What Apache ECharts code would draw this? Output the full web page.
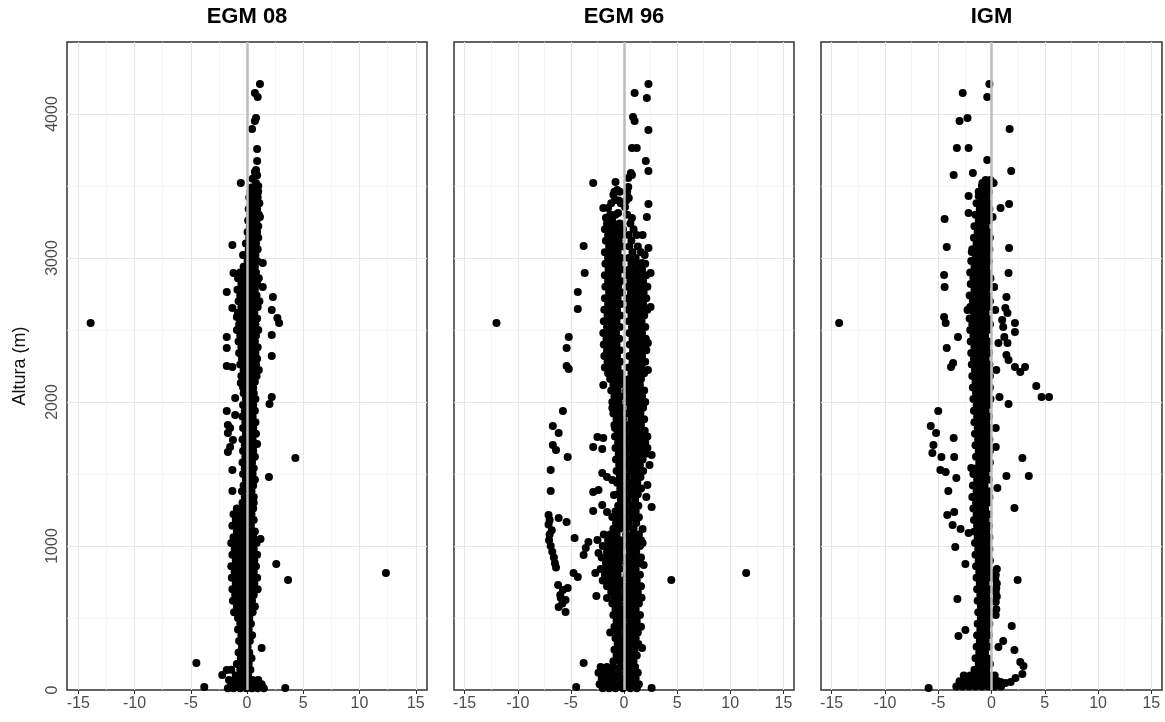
<!DOCTYPE html>
<html>
<head>
<meta charset="utf-8">
<script src="https://cdn.jsdelivr.net/npm/echarts@6/dist/echarts.min.js"></script>
<style>
html, body { margin: 0; background: #fff; }
#main { width: 1165px; height: 722px; }
</style>
</head>
<body>
<div id="main"></div>
<script>
var panels = ['EGM 08', 'EGM 96', 'IGM'];
var xTicks = [-15, -10, -5, 0, 5, 10, 15];
var xMinor = [-12.5, -7.5, -2.5, 2.5, 7.5, 12.5];
var yTicks = [0, 1000, 2000, 3000, 4000];
var yMinor = [500, 1500, 2500, 3500];

// each row: altura (m), then the differences (m) read at that altitude
var egm08Rows = [
  [4208, 1.15], [4146, 0.7], [4118, 0.95], [3972, 0.8], [3951, 0.7], [3896, 0.45],
  [3757, 0.9], [3674, 0.9], [3611, 0.8], [3597, 0.7], [3575, 0.9], [3550, 0.5],
  [3521, -0.55, 0.8], [3500, 1.0], [3490, 0.4],
  [3460, 0.3, 0.7, 1.0], [3420, 0.2, 0.6, 0.95], [3380, 0.35, 0.75, 1.1], [3340, 0.15, 0.55, 0.9],
  [3300, 0.3, 0.7, 1.05], [3285, 1.15], [3260, 0.1, 0.5, 0.85], [3220, 0.25, 0.65, 1.0],
  [3180, 0.05, 0.45, 0.9], [3140, 0.2, 0.6, 1.0], [3100, -0.1, 0.4, 0.8], [3090, -1.3],
  [3060, 0.15, 0.55, 0.95], [3021, -0.35], [3020, -0.2, 0.3, 0.75], [2980, 0.05, 0.5, 0.9],
  [2965, 1.4], [2940, -0.3, 0.2, 0.7], [2900, -0.6, -0.15, 0.3, 0.8], [2896, -1.2],
  [2860, -0.8, -0.3, 0.15, 0.65, 1.05], [2820, -0.5, 0.0, 0.45, 0.9], [2799, 1.4],
  [2780, -0.85, -0.35, 0.2, 0.7], [2764, -1.8], [2740, -0.6, -0.1, 0.35, 0.85], [2729, 2.3],
  [2700, -0.75, -0.25, 0.25, 0.7, 1.1], [2660, -0.5, 0.0, 0.5, 0.95], [2653, -1.3], [2639, 2.2],
  [2620, -0.8, -0.3, 0.2, 0.65], [2590, -0.9], [2583, 2.7], [2580, -0.55, -0.05, 0.4, 0.9],
  [2549, 2.85, -13.9], [2540, -0.7, -0.2, 0.3, 0.75], [2500, -0.9, -0.4, 0.1, 0.6, 1.0],
  [2465, 2.2], [2460, -0.6, -0.1, 0.35, 0.8], [2451, -1.8], [2420, -0.75, -0.25, 0.25, 0.7],
  [2380, -0.5, 0.0, 0.45, 0.95], [2375, -1.8], [2340, -0.7, -0.2, 0.3, 0.75], [2319, 2.2],
  [2300, -0.45, 0.05, 0.5, 0.9], [2260, -0.6, -0.1, 0.35, 0.8], [2250, -1.8], [2243, -1.3],
  [2222, 1.05], [2220, -0.3, 0.15, 0.6], [2180, -0.5, 0.0, 0.45, 0.85], [2140, -0.2, 0.25, 0.7],
  [2132, -0.55], [2100, -0.35, 0.1, 0.55], [2060, -0.3, 0.15, 0.6], [2035, 2.2], [2028, -1.05],
  [2020, -0.1, 0.35, 0.75], [1986, 2.0], [1980, -0.35, 0.1, 0.55], [1940, -0.2, 0.25, 0.7],
  [1938, -1.8], [1910, -1.05], [1900, -0.4, 0.05, 0.5], [1860, -0.15, 0.3, 0.75], [1840, -1.7],
  [1820, -0.35, 0.1, 0.55, -1.5], [1785, -1.7], [1780, -0.1, 0.35, 0.8], [1740, -0.4, 0.05, 0.5],
  [1736, -1.25], [1708, 0.9], [1700, -0.2, 0.25, 0.65], [1688, -1.5], [1660, -0.35, 0.1, 0.55],
  [1653, -1.7], [1620, -0.15, 0.3, 0.7], [1611, 4.3], [1580, -0.4, 0.05, 0.45],
  [1540, -0.2, 0.25, 0.6], [1528, -1.3], [1500, -0.35, 0.1, 0.5], [1479, 1.95],
  [1460, -0.1, 0.3, 0.7], [1420, -0.3, 0.15, 0.55], [1382, -1.3], [1380, -0.45, 0.0, 0.4],
  [1340, -0.2, 0.2, 0.6], [1300, -0.4, 0.05, 0.45, 0.6], [1260, -0.9, -0.3, 0.2, 0.55],
  [1220, -1.2, -0.6, 0.0, 0.4], [1180, -1.0, -0.45, 0.15, 0.6], [1140, -1.3, -0.7, -0.1, 0.35],
  [1100, -0.9, -0.4, 0.2, 0.7], [1060, -1.2, -0.6, 0.0, 0.55], [1049, 1.2],
  [1020, -1.4, -0.8, -0.2, 0.35, 0.85], [980, -1.1, -0.5, 0.1, 0.6],
  [940, -1.3, -0.7, -0.15, 0.4, 0.9], [900, -1.0, -0.4, 0.15, 0.65], [875, 2.6],
  [860, -1.4, -0.8, -0.25, 0.3, 0.8], [820, -1.1, -0.55, 0.05, 0.6], [812, 12.35],
  [780, -1.35, -0.75, -0.2, 0.35, 0.9], [764, 3.65], [740, -1.0, -0.45, 0.1, 0.65],
  [700, -1.3, -0.7, -0.15, 0.4, 0.95], [660, -1.05, -0.5, 0.05, 0.6],
  [620, -1.25, -0.65, -0.1, 0.45], [580, -0.9, -0.4, 0.15, 0.7], [540, -1.15, -0.55, 0.0, 0.5],
  [500, -0.8, -0.3, 0.2], [460, -0.6, -0.1, 0.35], [420, -0.8, -0.3, 0.15], [380, -0.5, 0.0, 0.45],
  [340, -0.7, -0.2, 0.25], [300, -0.45, 0.05], [292, 1.3], [260, -0.75, -0.25, 0.2],
  [220, -0.55, -0.05, 0.4], [188, -4.5], [180, -0.9, -0.35, 0.15], [140, -1.4, -0.6, -0.1, 0.3],
  [139, -1.8], [104, -2.2], [100, -1.0, -0.4, 0.1], [70, -1.6, -1.1, -0.55, 0.0, 0.5, 1.0],
  [40, -1.4, -0.8, -0.25, 0.3, 0.8, 1.3], [21, -3.8], [14, 3.4],
  [12, -1.7, -1.2, -0.6, -0.05, 0.45, 0.95, 1.5]
];

var egm96Rows = [
  [4208, 2.3], [4146, 1.0], [4111, 2.15], [3979, 0.85], [3951, 1.0], [3889, 2.3],
  [3764, 0.75, 1.2], [3674, 2.05], [3604, 2.3], [3590, 0.65], [3576, 0.75], [3555, 0.4],
  [3528, -0.8], [3521, -2.9], [3493, 0.4], [3472, -0.65], [3460, -0.9, -0.4, 0.3], [3440, -1.0],
  [3417, 0.45], [3403, -0.85], [3400, -0.5, 0.2], [3380, -1.2, -0.3], [3375, 2.3], [3354, 0.1],
  [3347, -1.95, -1.5], [3313, -0.55], [3300, -1.3, -0.8, 0.3], [3285, 2.15], [3280, -1.7, -1.1],
  [3278, 0.75], [3240, -1.6, -1.0, -0.4, 0.6], [3200, -1.8, -1.2, -0.6, -0.1, 0.9],
  [3160, -1.5, -0.9, -0.3, 0.45, 1.2, 1.75], [3120, -1.7, -1.1, -0.5, 0.7],
  [3083, -3.8], [3080, -1.4, -0.8, -0.2, 0.5, 1.3], [3069, 2.3], [3040, -1.8, -1.2, -0.6, 0.8, 1.6],
  [3021, 1.95], [3000, -1.5, -0.9, -0.3, 0.45, 1.1], [2965, 1.7],
  [2960, -1.75, -1.15, -0.5, 0.7, 1.4, 2.0], [2920, -1.45, -0.85, -0.25, 0.5, 1.05, 1.7],
  [2896, -3.7, 2.5], [2880, -1.8, -1.2, -0.6, 0.35, 0.9, 1.5, 2.1],
  [2840, -1.5, -0.9, -0.3, 0.6, 1.2, 1.8], [2800, -1.75, -1.15, -0.55, 0.4, 0.95, 1.55, 2.2],
  [2764, -4.35], [2760, -1.4, -0.8, -0.2, 0.65, 1.25, 1.85],
  [2720, -1.8, -1.2, -0.6, 0.35, 0.9, 1.5, 2.1], [2680, -1.5, -0.9, -0.3, 0.6, 1.2, 1.8],
  [2660, 2.5], [2646, -4.35], [2640, -1.85, -1.25, -0.65, 0.4, 1.0, 1.6, 2.2],
  [2600, -1.55, -0.95, -0.35, 0.7, 1.3, 1.9], [2560, -1.9, -1.3, -0.7, 0.45, 1.05, 1.65],
  [2549, -12.0], [2520, -1.6, -1.0, -0.4, 0.75, 1.35, 2.0], [2480, -1.95, -1.35, -0.75, 0.5, 1.1, 1.7],
  [2451, -5.2], [2440, -1.65, -1.05, -0.45, 0.8, 1.4, 2.05], [2410, 2.25],
  [2400, -1.9, -1.3, -0.7, 0.55, 1.15, 1.75], [2375, -5.4], [2360, -1.6, -1.0, -0.4, 0.85, 1.45, 2.1],
  [2320, -1.85, -1.25, -0.65, 0.5, 1.1, 1.7], [2280, -1.55, -0.95, -0.35, 0.8, 1.4, 2.0],
  [2250, -5.4], [2240, -1.8, -1.2, -0.6, 0.45, 1.05, 1.65], [2229, -5.2], [2222, 2.25],
  [2200, -1.5, -0.9, -0.3, 0.7, 1.3, 1.9], [2160, -1.3, -0.7, -0.1, 0.5, 1.1, 1.6],
  [2120, -1.0, -0.4, 0.3, 0.9, 1.5], [2118, -1.95], [2080, -1.2, -0.6, 0.2, 0.8, 1.4, 1.9],
  [2040, -0.9, -0.3, 0.5, 1.1, 1.7], [2000, -1.1, -0.5, 0.3, 0.9, 1.5, 2.0],
  [1960, -0.8, -0.2, 0.6, 1.2, 1.8], [1958, -1.1], [1938, -5.75], [1920, -1.0, -0.4, 0.35, 0.95, 1.55],
  [1880, -0.7, -0.1, 0.7, 1.3, 1.9], [1840, -0.9, -0.3, 0.4, 1.0, 1.6], [1833, -6.7],
  [1819, -0.85], [1800, -0.6, 0.05, 0.75, 1.35, 1.95], [1785, -6.15],
  [1760, -0.85, -0.25, 0.45, 1.05, 1.65, 2.2], [1757, -2.5], [1750, -1.95],
  [1720, -0.55, 0.1, 0.8, 1.4, 2.0], [1701, -6.7], [1688, -2.9], [1681, 2.2],
  [1680, -0.8, -0.2, 0.5, 1.1, 1.7], [1674, -2.05], [1667, -6.4], [1640, -0.5, 0.15, 0.85, 1.45, 2.05],
  [1632, 2.6], [1618, -5.3], [1600, -0.75, -0.15, 0.55, 1.15, 1.75], [1562, 2.4],
  [1560, -0.45, 0.2, 0.9, 1.5], [1528, -6.9], [1520, -0.7, -0.1, 0.6, 1.2, 1.8], [1507, -2.05],
  [1480, -0.4, 0.25, 0.95, 1.55], [1479, -1.6], [1458, -1.1], [1440, -0.65, -0.05, 0.65, 1.25],
  [1424, 2.2], [1400, -0.35, 0.3, 1.0, 1.6], [1389, -2.4], [1382, -6.9], [1375, -2.9],
  [1360, -0.6, 0.0, 0.7, 1.3], [1354, -0.95], [1340, 2.1], [1320, -0.3, 0.35, 1.05],
  [1285, -2.05], [1280, -0.55, 0.05, 0.75, 1.35], [1271, 2.6], [1243, -2.9],
  [1240, -0.8, -0.2, 0.4, 1.1], [1236, -1.6], [1215, -7.1], [1201, -1.1],
  [1200, -0.5, 0.1, 0.8, 1.4], [1194, -6.15], [1180, -7.0], [1167, -5.4],
  [1160, -0.75, -0.15, 0.45, 1.15], [1150, -7.1], [1125, -0.65], [1120, -1.0, -0.4, 0.2, 0.9],
  [1118, 1.75], [1110, -6.8], [1080, -1.9, -1.3, -0.7, 0.2, 0.8, 1.4, -7.0],
  [1056, -4.65], [1042, -2.5], [1040, -1.5, -0.9, -0.3, 0.5, 1.1, 1.6, -7.05], [1028, -3.35],
  [1021, 1.75], [1000, -2.0, -1.4, -0.8, -0.2, 0.3, 0.9, 1.5, -6.9], [986, -3.6],
  [960, -1.6, -1.0, -0.4, 0.55, 1.15, -6.75], [951, -2.4], [938, -3.8],
  [920, -2.1, -1.5, -0.9, -0.3, 0.35, 0.95, 1.6, -6.6], [880, -1.7, -1.1, -0.5, 0.2, 0.8, 1.4, -6.5],
  [868, 1.85], [850, -6.4], [840, -2.2, -1.6, -1.0, -0.4, 0.5, 1.1], [813, -4.75, -2.7],
  [812, 11.5], [800, -1.8, -1.2, -0.6, 0.25, 0.85, 1.5], [785, -4.35], [764, 4.45],
  [760, -2.0, -1.4, -0.8, -0.2, 0.55, 1.2], [729, -6.2], [720, -1.6, -1.0, -0.4, 0.3, 0.95, 1.6],
  [708, -5.3], [694, -5.75], [680, -1.2, -0.6, 0.1, 0.7, 1.3], [660, -6.0], [653, -2.6],
  [640, -0.9, -0.3, 0.45, 1.05, 1.65], [639, -5.95, -1.6], [625, -5.5], [600, -1.1, -0.5, 0.2, 0.8, 1.4, -5.8],
  [576, -6.15], [560, -0.8, -0.2, 0.5, 1.1], [542, -5.5], [520, -1.0, -0.4, 0.25, 0.85, 1.5],
  [480, -0.7, -0.1, 0.6, 1.2], [440, -0.9, -0.3, 0.4, 1.0, 1.6], [400, -1.3, -0.6, 0.1, 0.75, 1.3],
  [360, -0.8, -0.2, 0.5, 1.1], [320, -0.6, 0.05, 0.7, 1.35], [292, 1.7], [280, -0.9, -0.3, 0.4, 1.0],
  [240, -0.7, -0.05, 0.6, 1.2], [200, -1.0, -0.4, 0.3, 0.9], [188, -3.8],
  [160, -2.2, -1.6, -1.0, -0.3, 0.45, 1.05], [120, -2.4, -1.8, -1.2, -0.5, 0.2, 0.8, 1.3],
  [80, -2.1, -1.5, -0.9, -0.2, 0.5, 1.1], [40, -2.3, -1.7, -1.1, -0.4, 0.3, 0.9, 1.4],
  [21, -4.5], [14, 2.6], [12, -2.0, -1.4, -0.8, -0.1, 0.6, 1.2]
];

var igmRows = [
  [4208, -0.2], [4146, -2.7], [4118, -0.4], [3972, -2.25], [3951, -3.0], [3896, 1.7],
  [3764, -3.25, -2.15], [3681, -0.4], [3604, 1.85], [3590, -1.75], [3576, -3.55],
  [3542, -0.55, -0.1], [3521, -0.85, 0.2], [3500, -0.9, -0.4], [3460, -1.2, -0.7, -0.25],
  [3431, -2.15, -1.2], [3420, -0.9, -0.45], [3403, -0.85], [3380, -1.4, -0.9, -0.35],
  [3375, 1.65], [3347, 0.85], [3340, -1.1, -0.6, -0.2], [3313, -2.15],
  [3300, -1.5, -1.0, -0.45], [3285, 0.1], [3271, -4.4], [3260, -1.2, -0.7, -0.25],
  [3220, -1.6, -1.1, -0.55], [3180, -1.3, -0.8, -0.3], [3140, -1.65, -1.15, -0.6, -0.15],
  [3100, -1.4, -0.9, -0.4], [3076, -4.2], [3069, 1.65], [3060, -1.8, -1.25, -0.7, -0.2],
  [3042, -1.85], [3020, -1.5, -1.0, -0.45], [2980, -1.9, -1.35, -0.8, -0.25],
  [2940, -1.6, -1.05, -0.5], [2900, -2.0, -1.45, -0.9, -0.35], [2896, 1.6], [2882, -4.45],
  [2860, -1.7, -1.15, -0.6, -0.1], [2820, -1.95, -1.4, -0.85, -0.3], [2799, -4.4, 0.25],
  [2780, -1.6, -1.05, -0.5], [2740, -2.05, -1.5, -0.95, -0.4], [2729, 1.4],
  [2700, -1.75, -1.2, -0.65, -0.15], [2660, -2.0, -1.45, -0.9, -0.35], [2653, 1.3],
  [2639, 0.35, -2.25], [2620, -1.65, -1.1, -0.55], [2618, 1.5], [2590, -4.45],
  [2580, -2.05, -1.5, -0.95, -0.4], [2569, 1.0], [2549, -4.3, 2.2, -14.3],
  [2540, -1.8, -1.25, -0.7, -0.15], [2521, 1.1], [2500, -2.0, -1.45, -0.9, -0.35], [2486, 2.2],
  [2460, -1.7, -1.15, -0.6], [2451, -3.15, 1.2], [2420, -1.95, -1.4, -0.85, -0.3],
  [2410, 0.65, 1.5], [2380, -1.6, -1.05, -0.5], [2375, -4.2], [2340, -1.9, -1.35, -0.8, -0.25],
  [2326, 1.4], [2300, -1.65, -1.1, -0.55], [2292, 1.6], [2271, -3.6],
  [2260, -1.85, -1.3, -0.75, -0.2], [2243, -3.8, 2.2, 3.15], [2222, 0.45],
  [2220, -1.55, -1.0, -0.45], [2208, 2.7], [2180, -1.8, -1.25, -0.7, -0.15],
  [2140, -1.5, -0.95, -0.4], [2111, 4.2], [2100, -1.75, -1.2, -0.65, -0.15],
  [2060, -1.45, -0.9, -0.35], [2035, 0.75, 4.7, 5.4], [2020, -1.7, -1.15, -0.6, -0.1],
  [1986, 1.6], [1980, -1.4, -0.85, -0.3], [1940, -1.65, -1.1, -0.55], [1938, -5.0],
  [1900, -1.35, -0.8, -0.25], [1860, -1.6, -1.05, -0.5], [1833, -5.7], [1820, -1.3, -0.75, -0.2],
  [1819, 0.4], [1785, -5.2], [1780, -1.55, -1.0, -0.45], [1750, -3.55],
  [1740, -1.25, -0.7, -0.2], [1701, -5.45], [1700, -1.5, -0.95, -0.4], [1688, 0.4],
  [1660, -1.2, -0.65, -0.15], [1646, -5.55], [1620, -1.45, -0.9, -0.35], [1618, -4.7, -3.5],
  [1611, 2.9], [1580, -1.15, -0.6, -0.15], [1542, -1.9], [1540, -1.4, -0.85, -0.3],
  [1528, -4.8], [1514, -4.3], [1500, -1.7, -1.1, -0.55], [1486, 1.4, 3.5], [1472, -3.3],
  [1460, -1.35, -0.8, -0.25], [1420, -1.75, -1.2, -0.65], [1403, 0.55], [1382, -4.05],
  [1380, -1.4, -0.85, -0.3], [1340, -1.8, -1.25, -0.7, -0.2], [1300, -1.45, -0.9, -0.35],
  [1264, 2.15], [1260, -1.7, -1.15, -0.6], [1236, -3.5], [1220, -1.4, -0.85, -0.3],
  [1215, -4.15], [1180, -1.65, -1.1, -0.55], [1146, -3.65], [1140, -1.35, -0.8, -0.25],
  [1118, -2.9], [1100, -1.6, -1.05, -0.5], [1090, -2.15], [1060, -1.3, -0.75, -0.2],
  [1020, -1.55, -1.0, -0.45], [993, -3.4], [980, -1.25, -0.7, -0.2], [940, -1.5, -0.95, -0.4],
  [900, -1.2, -0.65, -0.15], [875, -2.45], [860, -1.45, -0.9, -0.35], [840, 0.5],
  [820, -1.15, -0.6, -0.15], [799, 0.4], [780, -1.4, -0.85, -0.3], [770, 0.35], [764, 2.45],
  [740, -1.1, -0.55, 0.5], [708, 0.45], [700, -1.35, -0.8, -0.25], [680, 0.4],
  [660, -1.05, -0.5], [650, 0.5], [632, -3.2], [620, -1.3, -0.75, -0.2], [611, 0.4],
  [580, -1.0, -0.45], [560, 0.45], [540, -1.25, -0.7, -0.2], [521, 0.4], [500, -1.0, -0.45],
  [460, -1.3, -0.75, -0.2], [444, 1.9], [420, -1.05, -0.5], [417, -2.45],
  [380, -1.35, -0.8, -0.25], [375, -3.1], [340, -1.1, -0.55, 1.1], [300, -1.4, -0.85, -0.3],
  [299, 0.65], [278, 2.15], [260, -1.15, -0.6], [220, -1.5, -0.95, -0.4], [194, 2.7],
  [180, -1.2, -0.65, -0.15], [167, 3.0], [140, -1.6, -1.05, -0.5], [111, 2.9],
  [100, -2.6, -2.0, -1.4, -0.85, -0.3, 0.3], [83, 2.25], [60, -3.0, -2.4, -1.8, -1.2, -0.6, 0.0, 0.6],
  [56, 1.8, 0.85], [49, 1.3], [25, -3.3, -2.7, -2.1, -1.5, -0.9, -0.3, 0.3, 0.9], [14, -5.9]
];

function toPoints(rows) {
  var out = [];
  rows.forEach(function (r) {
    for (var i = 1; i < r.length; i++) {
      out.push([r[i], r[0]]);
    }
  });
  return out;
}

var seriesData = [toPoints(egm08Rows), toPoints(egm96Rows), toPoints(igmRows)];
var boxes = [
  { left: 67, width: 360 },
  { left: 454, width: 340 },
  { left: 821, width: 341 }
];
var font = 'Liberation Sans, Arial, sans-serif';

var gridLines = [];
xMinor.forEach(function (v) { gridLines.push({ xAxis: v, lineStyle: { color: '#f2f2f2', width: 0.7, type: 'solid' } }); });
yMinor.forEach(function (v) { gridLines.push({ yAxis: v, lineStyle: { color: '#f2f2f2', width: 0.7, type: 'solid' } }); });
xTicks.forEach(function (v) { gridLines.push({ xAxis: v, lineStyle: { color: '#e6e6e6', width: 1.1, type: 'solid' } }); });
yTicks.slice(1).forEach(function (v) { gridLines.push({ yAxis: v, lineStyle: { color: '#e6e6e6', width: 1.1, type: 'solid' } }); });

var grids = [], xAxes = [], yAxes = [], series = [], graphics = [];
boxes.forEach(function (b, i) {
  grids.push({
    left: b.left, top: 42, width: b.width, height: 648,
    show: true, borderColor: '#333', borderWidth: 1.5, backgroundColor: '#fff'
  });
  xAxes.push({
    type: 'value', gridIndex: i, min: -16, max: 16,
    axisLine: { show: false },
    splitLine: { show: false },
    axisTick: { show: true, length: 4, customValues: xTicks, lineStyle: { color: '#333' } },
    axisLabel: { customValues: xTicks, color: '#4d4d4d', fontSize: 16, fontFamily: font, margin: 6 }
  });
  yAxes.push({
    type: 'value', gridIndex: i, min: 0, max: 4500,
    name: i === 0 ? 'Altura (m)' : '',
    nameLocation: 'middle', nameGap: 38, nameRotate: 90,
    nameTextStyle: { color: '#111', fontSize: 18, fontFamily: font },
    axisLine: { show: false },
    splitLine: { show: false },
    axisTick: { show: i === 0, length: 4, customValues: yTicks, lineStyle: { color: '#333' } },
    axisLabel: {
      show: i === 0, customValues: yTicks, rotate: 90, color: '#4d4d4d', fontSize: 16,
      fontFamily: font, margin: 6,
      formatter: function (v) { return String(v); }
    }
  });
  series.push({
    type: 'scatter', xAxisIndex: i, yAxisIndex: i, data: [], z: 1, silent: true,
    markLine: { z: 1, silent: true, symbol: 'none', animation: false, label: { show: false }, data: gridLines }
  });
  series.push({
    name: panels[i], type: 'scatter', xAxisIndex: i, yAxisIndex: i,
    data: seriesData[i], symbolSize: 8, z: 2,
    itemStyle: { color: '#000', opacity: 1 }
  });
  series.push({
    type: 'scatter', xAxisIndex: i, yAxisIndex: i, data: [], z: 3, silent: true,
    markLine: {
      z: 3, silent: true, symbol: 'none', animation: false, label: { show: false },
      data: [{ xAxis: 0 }],
      lineStyle: { color: '#bdbdbd', width: 2.5, type: 'solid' }
    }
  });
  graphics.push({
    type: 'text', x: b.left + b.width / 2, y: 6,
    style: { text: panels[i], align: 'center', verticalAlign: 'top', fontSize: 22, fontWeight: 'bold', fontFamily: font, fill: '#000' }
  });
});

var myChart = echarts.init(document.getElementById('main'));
myChart.setOption({
  animation: false,
  backgroundColor: '#fff',
  grid: grids,
  xAxis: xAxes,
  yAxis: yAxes,
  series: series,
  graphic: graphics
});
</script>
</body>
</html>
